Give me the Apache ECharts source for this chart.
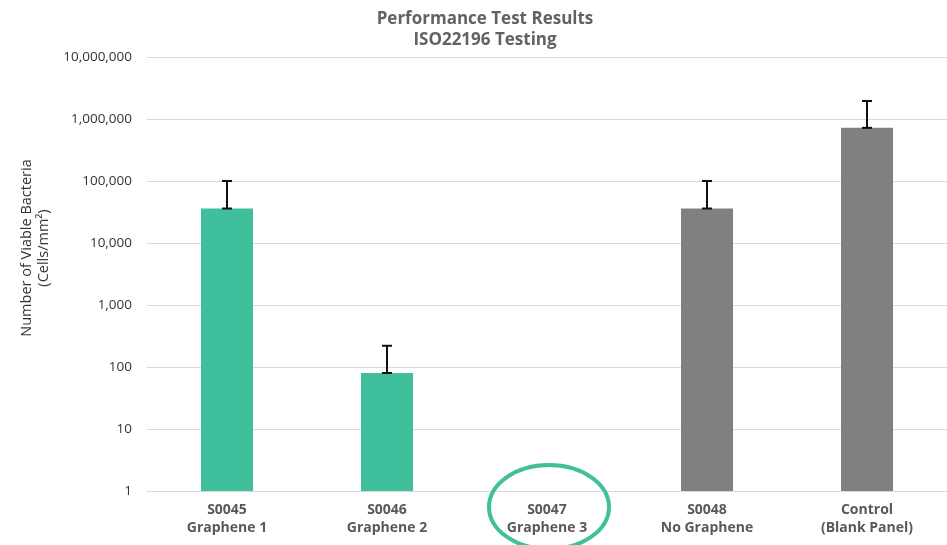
<!DOCTYPE html>
<html>
<head>
<meta charset="utf-8">
<script src="https://cdn.jsdelivr.net/npm/echarts@6/dist/echarts.min.js"></script>
<style>html,body{margin:0;padding:0;background:#fff}#c{width:947px;height:545px}</style>
</head>
<body>
<div id="c"></div>
<script>
var categories = ['S0045\nGraphene 1', 'S0046\nGraphene 2', 'S0047\nGraphene 3', 'S0048\nNo Graphene', 'Control\n(Blank Panel)'];
var values = [36000, 80, null, 36000, 720000];
var errorHigh = [100000, 220, null, 100000, 1950000];
var barColors = ['#3fbf9b', '#3fbf9b', '#3fbf9b', '#808080', '#808080'];
var highlightIndex = 2;

var chart = echarts.init(document.getElementById('c'));
var errData = [];
for (var i = 0; i < values.length; i++) {
  if (values[i] != null && errorHigh[i] != null) errData.push([i, values[i], errorHigh[i]]);
}
var barData = values.map(function (v, i) {
  return v == null ? null : { value: v, itemStyle: { color: barColors[i] } };
});

chart.setOption({
  animation: false,
  title: {
    text: 'Performance Test Results\nISO22196 Testing',
    left: 480, textAlign: 'center', top: 4,
    textStyle: { fontFamily: 'Open Sans', fontWeight: 'bold', fontSize: 17, color: '#5f6366', lineHeight: 21 }
  },
  grid: { left: 147, right: 0, top: 57, bottom: 54 },
  xAxis: {
    type: 'category', data: categories,
    axisLine: { lineStyle: { color: '#d9d9d9', width: 1 } },
    axisTick: { show: false },
    axisLabel: { fontFamily: 'Open Sans', fontWeight: 'bold', fontSize: 14, color: '#595959', lineHeight: 18, margin: 10 }
  },
  yAxis: {
    type: 'log', logBase: 10, min: 1, max: 10000000,
    name: 'Number of Viable Bacteria\n(Cells/mm²)',
    nameLocation: 'middle', nameRotate: 90, nameGap: 94,
    nameTextStyle: { fontFamily: 'Open Sans', fontSize: 14.5, color: '#333', lineHeight: 17, padding: [0, 0, 0, 52] },
    axisLine: { show: false }, axisTick: { show: false },
    splitLine: { lineStyle: { color: '#d9d9d9', width: 1 } },
    axisLabel: {
      fontFamily: 'Open Sans', fontSize: 13.5, color: '#333', margin: 15,
      formatter: function (v) { return Math.round(v).toLocaleString('en-US'); }
    }
  },
  series: [
    { type: 'bar', data: barData, barWidth: 52 },
    {
      type: 'custom', data: errData,
      renderItem: function (params, api) {
        var x = api.value(0);
        var lo = api.coord([x, api.value(1)]);
        var hi = api.coord([x, api.value(2)]);
        var w = 5;
        var st = { stroke: '#111', lineWidth: 2 };
        return { type: 'group', children: [
          { type: 'line', shape: { x1: lo[0], y1: lo[1], x2: hi[0], y2: hi[1] }, style: st },
          { type: 'line', shape: { x1: lo[0] - w, y1: lo[1], x2: lo[0] + w, y2: lo[1] }, style: st },
          { type: 'line', shape: { x1: hi[0] - w, y1: hi[1], x2: hi[0] + w, y2: hi[1] }, style: st }
        ]};
      },
      z: 10
    }
  ]
});

var cx = chart.convertToPixel({ xAxisIndex: 0 }, highlightIndex);
chart.setOption({
  graphic: [{
    type: 'ellipse', shape: { cx: cx + 2, cy: 507, rx: 60, ry: 42 },
    style: { fill: 'none', stroke: '#3fbf9b', lineWidth: 4 }, z: 100
  }]
});
</script>
</body>
</html>
